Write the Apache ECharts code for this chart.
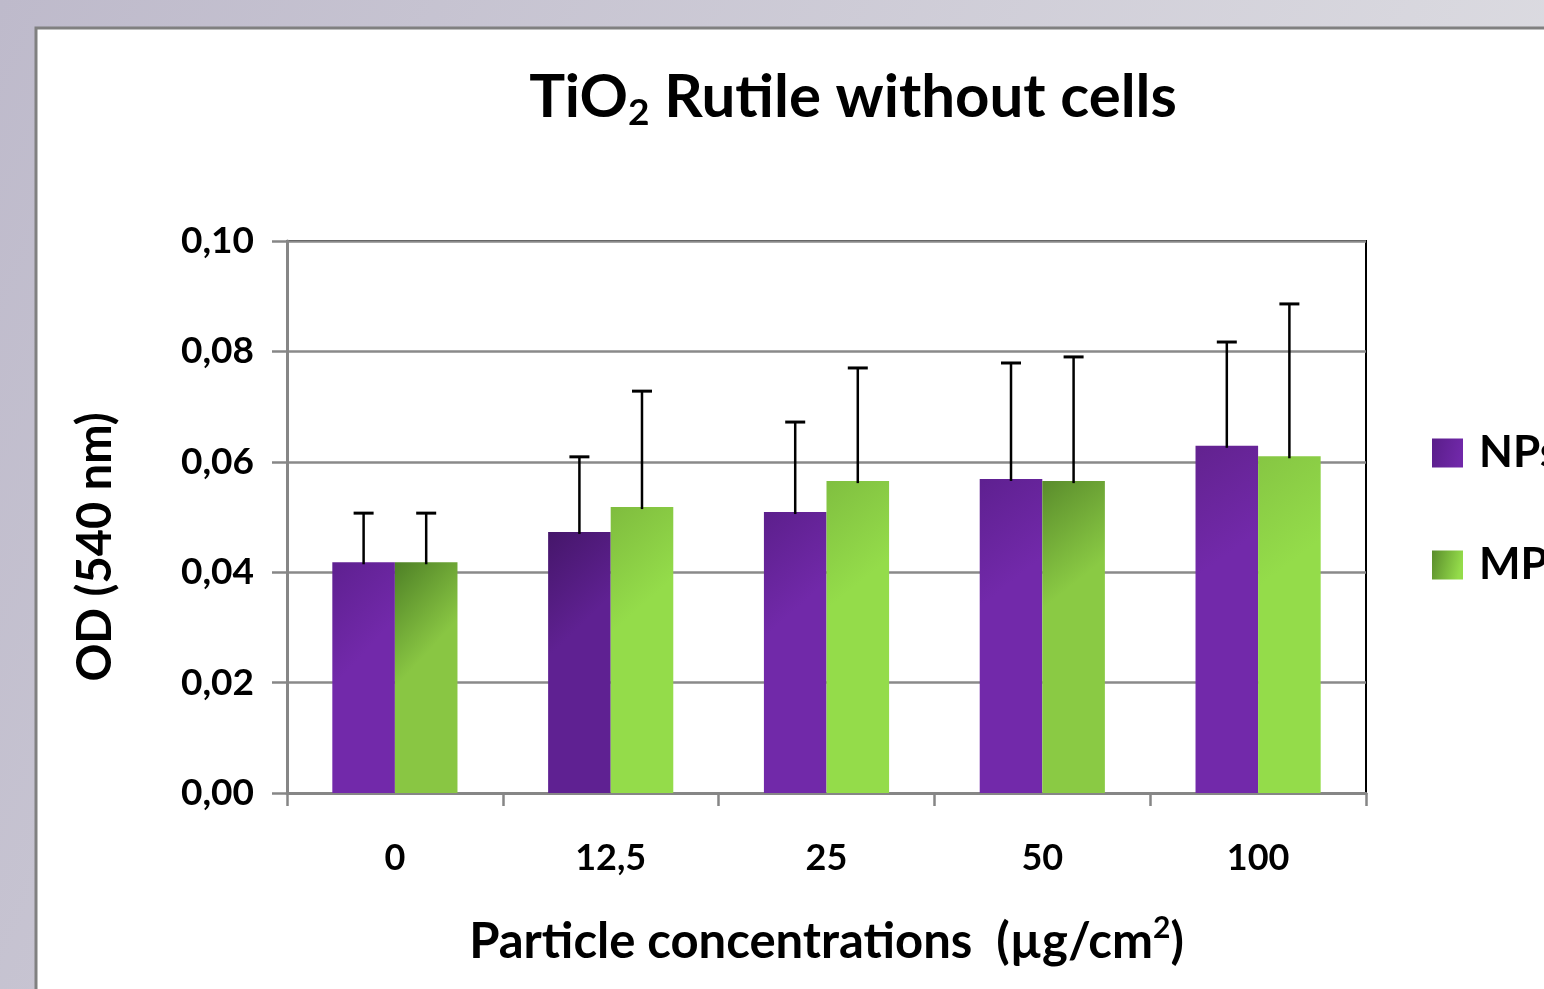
<!DOCTYPE html>
<html><head><meta charset="utf-8">
<script src="https://cdn.jsdelivr.net/npm/echarts@6/dist/echarts.min.js"></script>
<style>html,body{margin:0;padding:0;width:1544px;height:989px;overflow:hidden}#c{width:1544px;height:989px}</style>
</head><body><div id="c"></div>
<script>
// ---- data ----
const categories = ['0', '12,5', '25', '50', '100'];
const seriesNames = ['NPs', 'MPs'];
const npValues = [0.0418, 0.0473, 0.0509, 0.0569, 0.0629];
const npErrors = [0.0089, 0.0136, 0.0163, 0.0210, 0.0188];
const mpValues = [0.0418, 0.0518, 0.0565, 0.0565, 0.0610];
const mpErrors = [0.0089, 0.0210, 0.0205, 0.0225, 0.0276];
const yMin = 0, yMax = 0.1, yStep = 0.02;

// ---- styles ----
const FONT = 'Lato';
const FW = 'bold';
const npStart = ['#5e2090', '#45166a', '#5c1f8c', '#5e2090', '#62228f'];
const npEnd   = ['#7229aa', '#5f2192', '#7129a9', '#7229aa', '#7229aa'];
const mpStart = ['#4e8026', '#7fbc3e', '#80bf40', '#5a8c2c', '#86c643'];
const mpEnd   = ['#89c643', '#94dc4a', '#94dc4a', '#8aca44', '#94dc4a'];
function grad(a, b) {
  return new echarts.graphic.LinearGradient(0, 0, 1, 0.25, [{offset: 0, color: a}, {offset: 1, color: b}]);
}
const BARW = 0.29;

function errRenderer(sign) {
  return function (params, api) {
    const idx = api.value(0), base = api.value(1), err = api.value(2);
    const catW = api.size([1, 0])[0];
    const p0 = api.coord([idx, base]);
    const p1 = api.coord([idx, base + err]);
    const x = p0[0] + sign * catW * BARW / 2;
    return {
      type: 'group',
      children: [
        {type: 'line', shape: {x1: x, y1: p0[1] + 2, x2: x, y2: p1[1]}, style: {stroke: '#000', lineWidth: 2.5}},
        {type: 'line', shape: {x1: x - 10, y1: p1[1], x2: x + 10, y2: p1[1]}, style: {stroke: '#000', lineWidth: 3}}
      ]
    };
  };
}

const chart = echarts.init(document.getElementById('c'), null, {width: 1544, height: 989});
chart.setOption({
  backgroundColor: new echarts.graphic.LinearGradient(0, 0, 1, 0.7, [
    {offset: 0, color: '#bebacb'}, {offset: 1, color: '#e0e0e4'}]),
  animation: false,
  graphic: [
    {type: 'rect', z: -10, shape: {x: 36, y: 28, width: 1600, height: 1100},
     style: {fill: '#ffffff', stroke: '#808080', lineWidth: 3}},
    {type: 'text', x: 96, y: 547, rotation: Math.PI / 2, z: 10,
     style: {text: 'OD (540 nm)', fontFamily: FONT, fontWeight: FW, fontSize: 47, fill: '#000',
       textAlign: 'center', textVerticalAlign: 'middle'}}
  ],
  title: {
    text: 'TiO{sub|2} Rutile without cells',
    left: 848, top: 58, textAlign: 'center',
    textStyle: {fontFamily: FONT, fontWeight: FW, fontSize: 60, color: '#000',
      rich: {sub: {fontFamily: FONT, fontWeight: FW, fontSize: 37, color: '#000', padding: [32, 0, 0, 0]}}}
  },
  legend: {
    orient: 'vertical', left: 1432, top: 431, padding: 0,
    itemWidth: 31, itemHeight: 29, itemGap: 68,
    icon: 'rect',
    data: seriesNames,
    textStyle: {fontFamily: FONT, fontWeight: FW, fontSize: 44, color: '#000', padding: [0, 0, 0, 11]}
  },
  grid: {left: 287, width: 1079, top: 241, height: 552, show: true, borderColor: '#000', borderWidth: 2, backgroundColor: 'transparent'},
  xAxis: {
    type: 'category', data: categories,
    axisLine: {lineStyle: {color: '#868686', width: 3}},
    axisTick: {show: true, length: 13, lineStyle: {color: '#868686', width: 2.5}},
    axisLabel: {fontFamily: FONT, fontWeight: FW, fontSize: 36, color: '#000', margin: 47},
    name: 'Particle concentrations  (µg/cm{sup|2})',
    nameLocation: 'middle', nameGap: 120,
    nameTextStyle: {fontFamily: FONT, fontWeight: FW, fontSize: 49, color: '#000',
      rich: {sup: {fontFamily: FONT, fontWeight: FW, fontSize: 30, color: '#000', padding: [0, 0, 28, 0]}}}
  },
  yAxis: {
    type: 'value', min: yMin, max: yMax, interval: yStep,
    axisLine: {show: true, lineStyle: {color: '#868686', width: 3}},
    axisTick: {show: true, length: 15, lineStyle: {color: '#868686', width: 2.5}},
    splitLine: {lineStyle: {color: '#8a8a8a', width: 2.5}},
    axisLabel: {fontFamily: FONT, fontWeight: FW, fontSize: 37, color: '#000', margin: 33,
      formatter: v => v.toFixed(2).replace('.', ',')}
  },
  series: [
    {name: seriesNames[0], type: 'bar', barWidth: (BARW * 100) + '%', barGap: '0%',
     itemStyle: {color: grad('#5a1e8a', '#7028a8')},
     data: npValues.map((v, i) => ({value: v, itemStyle: {color: grad(npStart[i], npEnd[i])}}))},
    {name: seriesNames[1], type: 'bar', barWidth: (BARW * 100) + '%', barGap: '0%',
     itemStyle: {color: grad('#5a8c2c', '#94dc4a')},
     data: mpValues.map((v, i) => ({value: v, itemStyle: {color: grad(mpStart[i], mpEnd[i])}}))},
    {type: 'custom', renderItem: errRenderer(-1), z: 5,
     data: npValues.map((v, i) => [i, v, npErrors[i]])},
    {type: 'custom', renderItem: errRenderer(1), z: 5,
     data: mpValues.map((v, i) => [i, v, mpErrors[i]])}
  ]
});
</script></body></html>
